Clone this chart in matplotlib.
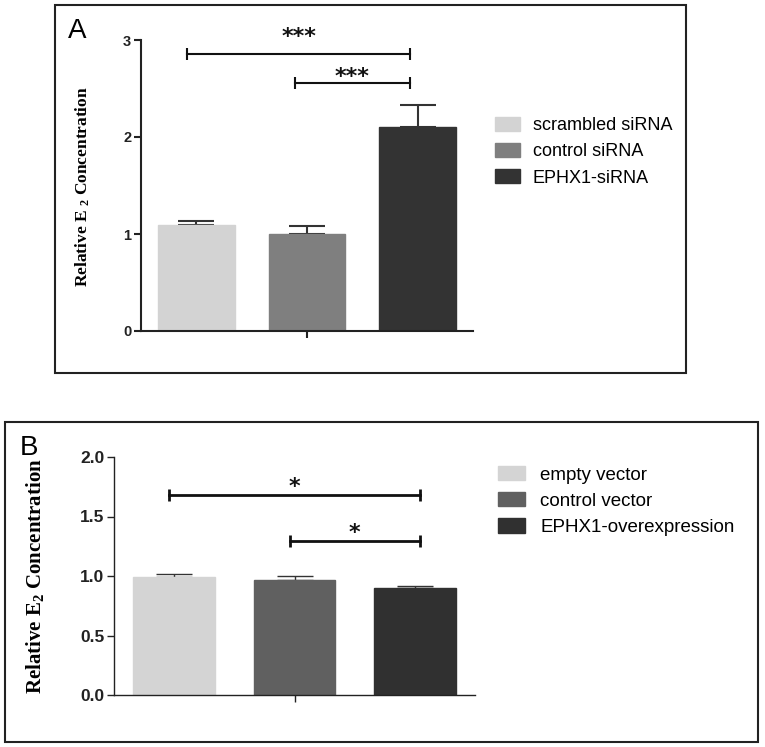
import matplotlib
matplotlib.use('Agg')
import matplotlib.pyplot as plt
from matplotlib.patches import Rectangle, Patch

# panel A data
labels_a = ['scrambled siRNA', 'control siRNA', 'EPHX1-siRNA']
means_a = [1.09, 1.00, 2.10]
err_a = [0.04, 0.08, 0.23]
colors_a = ['#d3d3d3', '#7f7f7f', '#333333']
# (from, to, line height, star baseline, stars)
sig_a = [(-0.08, 1.93, 2.86, 2.97, '***'), (0.89, 1.93, 2.56, 2.56, '***')]

# panel B data
labels_b = ['empty vector', 'control vector', 'EPHX1-overexpression']
means_b = [0.99, 0.965, 0.90]
err_b = [0.03, 0.035, 0.02]
colors_b = ['#d4d4d4', '#606060', '#303030']
sig_b = [(-0.04, 2.04, 1.68, 1.70, '*'), (0.96, 2.04, 1.29, 1.31, '*')]

W, H = 765, 747
plt.rcParams['mathtext.default'] = 'regular'
fig = plt.figure(figsize=(W / 100, H / 100), dpi=100)


def px_axes(l, t, r, b):
    return fig.add_axes([l / W, 1 - b / H, (r - l) / W, (b - t) / H])


def frame(l, t, r, b):
    fig.add_artist(Rectangle((l / W, 1 - b / H), (r - l) / W, (b - t) / H,
                             transform=fig.transFigure, fill=False,
                             lw=1.5, ec='#222222'))


def panel(ax, means, err, colors, width, lw, tickfs, sig, starfs, starlw):
    x = range(len(means))
    ax.bar(x, means, width=width, color=colors, edgecolor=colors, zorder=2)
    ax.errorbar(x, means, yerr=[[0] * len(err), err], fmt='none',
                ecolor='#333333', elinewidth=lw, capsize=13, capthick=lw, zorder=1)
    for x1, x2, y, ys, s in sig:
        ax.plot([x1, x2], [y, y], color='#111111', lw=starlw, marker='|',
                markersize=9, mew=starlw, clip_on=False)
        ax.text((x1 + x2) / 2, ys, s, ha='center', va='baseline',
                fontsize=starfs, fontweight='bold', color='#111111')
    ax.set_xlim(-0.5, 2.5)
    ax.set_xticks([1])
    ax.set_xticklabels([''])
    for sp in ['top', 'right']:
        ax.spines[sp].set_visible(False)
    for sp in ['left', 'bottom']:
        ax.spines[sp].set_linewidth(lw)
        ax.spines[sp].set_color('#222222')
    ax.tick_params(direction='out', length=5, width=lw, pad=2,
                   labelsize=tickfs, colors='#222222')


# panel A
frame(55, 5, 686, 373)
ax1 = px_axes(141, 40, 473, 331)
panel(ax1, means_a, err_a, colors_a, 0.69, 1.5, 10.5, sig_a, 16, 1.5)
ax1.set_ylim(0, 3)
ax1.set_yticks([0, 1, 2, 3])
ax1.set_yticklabels(['0', '1', '2', '3'], fontweight='bold', family='Liberation Sans')
fig.text(83 / W, 1 - 187 / H, 'Relative E $_2$ Concentration', rotation=90,
         ha='center', va='center', fontsize=12.5, fontweight='bold',
         family='Liberation Serif')
fig.text(68 / W, 1 - 38 / H, 'A', fontsize=20, family='Liberation Sans')
handles_a = [Patch(color=c) for c in colors_a]
ax1.legend(handles_a, labels_a, loc='upper left', bbox_to_anchor=(495 / W, 1 - 117 / H),
           bbox_transform=fig.transFigure, frameon=False, borderpad=0, borderaxespad=0,
           handlelength=1.4, handleheight=0.8, handletextpad=0.7, labelspacing=0.5,
           prop={'family': 'Liberation Sans', 'size': 13})

# panel B
frame(5, 422, 758, 742)
ax2 = px_axes(114, 457, 475, 695)
panel(ax2, means_b, err_b, colors_b, 0.68, 1.0, 12.5, sig_b, 16, 2.0)
ax2.set_ylim(0, 2.0)
ax2.set_yticks([0, 0.5, 1.0, 1.5, 2.0])
ax2.set_yticklabels(['0.0', '0.5', '1.0', '1.5', '2.0'], fontweight='bold',
                    family='Liberation Sans')
fig.text(35 / W, 1 - 576 / H, 'Relative E$_2$ Concentration', rotation=90,
         ha='center', va='center', fontsize=15, fontweight='bold',
         family='Liberation Serif')
fig.text(20 / W, 1 - 455 / H, 'B', fontsize=20, family='Liberation Sans')
handles_b = [Patch(color=c) for c in colors_b]
ax2.legend(handles_b, labels_b, loc='upper left', bbox_to_anchor=(498 / W, 1 - 466 / H),
           bbox_transform=fig.transFigure, frameon=False, borderpad=0, borderaxespad=0,
           handlelength=1.45, handleheight=0.8, handletextpad=0.8, labelspacing=0.45,
           prop={'family': 'Liberation Sans', 'size': 13.5})

fig.savefig('out.png', dpi=100)
